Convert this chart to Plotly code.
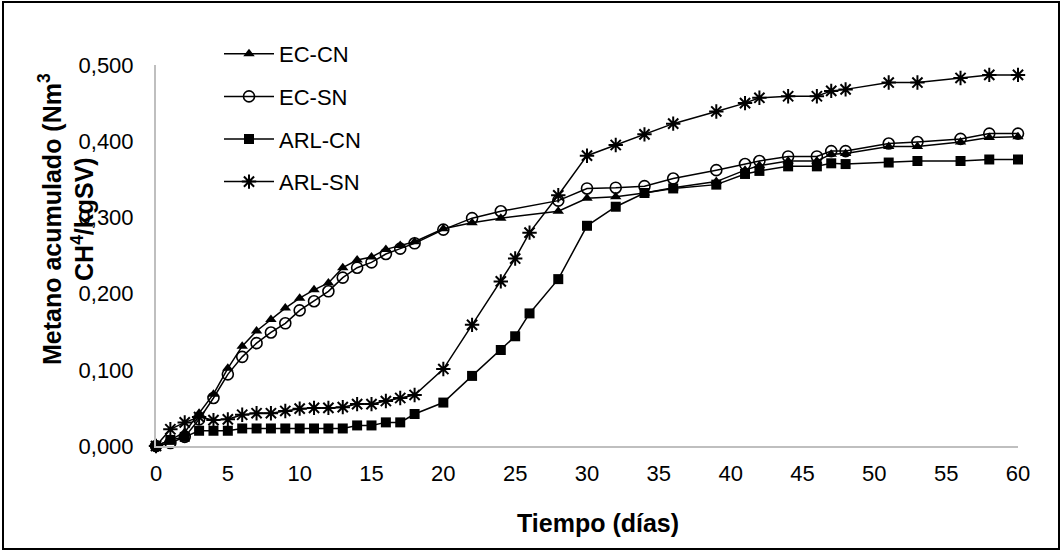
import plotly.graph_objects as go

# ---- data ----
days_ec = [0, 1, 2, 3, 4, 5, 6, 7, 8, 9, 10, 11, 12, 13, 14, 15, 16, 17, 18,
           20, 22, 24, 28, 30, 32, 34, 36, 39, 41, 42, 44, 46, 47, 48, 51, 53, 56, 58, 60]
days_arl = [0, 1, 2, 3, 4, 5, 6, 7, 8, 9, 10, 11, 12, 13, 14, 15, 16, 17, 18,
            20, 22, 24, 25, 26, 28, 30, 32, 34, 36, 39, 41, 42, 44, 46, 47, 48, 51, 53, 56, 58, 60]

ec_cn = [0, 0.008, 0.018, 0.043, 0.068, 0.102, 0.131, 0.151, 0.166, 0.181, 0.194, 0.205, 0.214,
         0.234, 0.244, 0.248, 0.258, 0.263, 0.268, 0.285, 0.293, 0.299, 0.308, 0.325, 0.327,
         0.332, 0.339, 0.347, 0.362, 0.368, 0.374, 0.374, 0.383, 0.384, 0.393, 0.393, 0.399,
         0.405, 0.406]
ec_sn = [0, 0.004, 0.012, 0.035, 0.063, 0.094, 0.117, 0.135, 0.149, 0.161, 0.178, 0.190, 0.203,
         0.221, 0.234, 0.241, 0.252, 0.259, 0.266, 0.284, 0.299, 0.308, 0.322, 0.338, 0.339,
         0.341, 0.351, 0.362, 0.370, 0.374, 0.380, 0.380, 0.387, 0.387, 0.397, 0.399, 0.403,
         0.410, 0.410]
arl_cn = [0, 0.008, 0.012, 0.020, 0.020, 0.020, 0.023, 0.023, 0.023, 0.023, 0.023, 0.023, 0.023,
          0.023, 0.027, 0.027, 0.031, 0.031, 0.042, 0.057, 0.092, 0.126, 0.144, 0.174, 0.219,
          0.289, 0.314, 0.332, 0.338, 0.343, 0.357, 0.361, 0.367, 0.367, 0.371, 0.370, 0.372,
          0.374, 0.374, 0.376, 0.376]
arl_sn = [0, 0.022, 0.031, 0.038, 0.034, 0.035, 0.041, 0.043, 0.043, 0.046, 0.049, 0.050, 0.050,
          0.051, 0.055, 0.055, 0.059, 0.063, 0.067, 0.101, 0.159, 0.216, 0.246, 0.280, 0.329,
          0.381, 0.395, 0.409, 0.423, 0.439, 0.450, 0.457, 0.459, 0.459, 0.466, 0.468, 0.477,
          0.477, 0.483, 0.487, 0.487]

y_ticks = [0, 0.1, 0.2, 0.3, 0.4, 0.5]
y_ticklabels = ["0,000", "0,100", "0,200", "0,300", "0,400", "0,500"]
x_ticks = list(range(0, 61, 5))

# ---- layout constants ----
W, H = 1062, 552
ML, MR, MT, MB = 156, 44, 65, 106
PW, PH = W - ML - MR, H - MT - MB
FONT = "Arial, Liberation Sans, sans-serif"

def px_y(py):
    return ((H - MB) - py) / PH

def px_x(px):
    return (px - ML) / PW

series = [
    ("EC-CN", days_ec, ec_cn, dict(symbol="triangle-up", size=10, color="black")),
    ("EC-SN", days_ec, ec_sn, dict(symbol="circle-open", size=11, color="black",
                                  line=dict(width=1.6, color="black"))),
    ("ARL-CN", days_arl, arl_cn, dict(symbol="square", size=10, color="black")),
    ("ARL-SN", days_arl, arl_sn, dict(symbol="asterisk-open", size=12, color="black",
                                      line=dict(width=2, color="black"))),
]

fig = go.Figure()
for name, xs, ys, mk in series:
    fig.add_trace(go.Scatter(
        x=xs, y=ys, name=name, mode="lines+markers",
        line=dict(color="black", width=1.5), marker=mk,
        cliponaxis=False, legendgroup=name,
    ))

fig.update_layout(
    width=W, height=H,
    margin=dict(l=ML, r=MR, t=MT, b=MB),
    paper_bgcolor="white", plot_bgcolor="white",
    font=dict(family=FONT, size=22, color="black"),
    showlegend=True,
    legend=dict(x=px_x(219), y=px_y(33),
                xanchor="left", yanchor="top",
                bgcolor="rgba(0,0,0,0)", font=dict(size=22),
                tracegroupgap=11, itemwidth=50),
    xaxis=dict(range=[0, 60], tickvals=x_ticks, showgrid=False, zeroline=False,
               showline=True, linecolor="#bfbfbf", linewidth=2,
               ticks="outside", ticklen=7, tickcolor="rgba(0,0,0,0)"),
    yaxis=dict(range=[0, 0.5], tickvals=y_ticks, ticktext=y_ticklabels,
               showgrid=False, zeroline=False,
               showline=True, linecolor="#bfbfbf", linewidth=2,
               ticks="outside", ticklen=16, tickcolor="rgba(0,0,0,0)"),
)

# axis titles as annotations
fig.add_annotation(text="<b>Tiempo (días)</b>", xref="paper", yref="paper",
                   x=px_x(598), y=px_y(523),
                   xanchor="center", yanchor="middle", showarrow=False,
                   font=dict(size=25, family=FONT))
fig.add_annotation(text="<b>Metano acumulado (Nm<sup>3</sup><br>CH<sup>4</sup>/kgSV)</b>",
                   xref="paper", yref="paper",
                   x=px_x(66), y=px_y(219),
                   xanchor="center", yanchor="middle", showarrow=False,
                   textangle=-90, font=dict(size=25, family=FONT))

# outer black frame of the whole picture
fig.add_shape(type="rect", xref="paper", yref="paper",
              x0=px_x(3), x1=px_x(W - 3),
              y0=px_y(H - 3), y1=px_y(2),
              line=dict(color="black", width=2), fillcolor="rgba(0,0,0,0)", layer="below")

fig.write_html("out.html")
